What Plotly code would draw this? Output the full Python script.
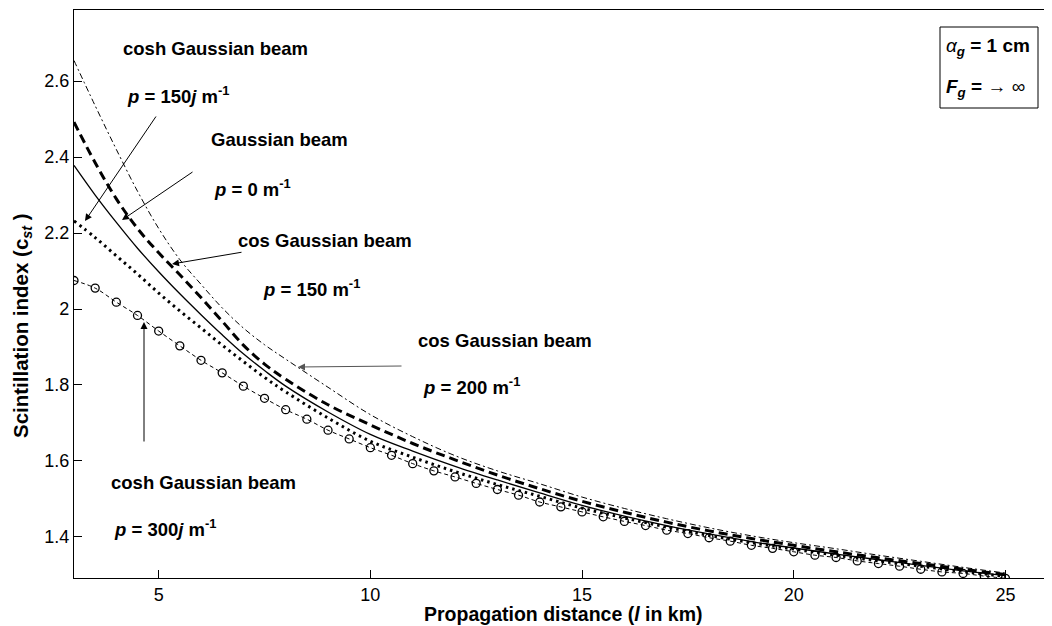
import plotly.graph_objects as go

# ---------------- data ----------------
x_line = [3, 3.5, 4, 4.5, 5, 5.5, 6, 6.5, 7, 7.5, 8, 9, 10, 11, 12, 13, 14, 15, 16, 17, 18, 19, 20, 21, 22, 23, 24, 25]

# cos Gaussian beam p = 200 m^-1 (thin dash-dot)
y_cos200 = [2.654, 2.535, 2.420, 2.310, 2.212, 2.130, 2.065, 2.003, 1.950, 1.906, 1.868, 1.794, 1.722, 1.664, 1.614, 1.574, 1.540, 1.505, 1.475, 1.448, 1.424, 1.403, 1.385, 1.369, 1.352, 1.336, 1.320, 1.305]
# cos Gaussian beam p = 150 m^-1 (thick dashed)
y_cos150 = [2.492, 2.385, 2.290, 2.212, 2.148, 2.090, 2.030, 1.968, 1.905, 1.855, 1.815, 1.748, 1.695, 1.646, 1.603, 1.563, 1.527, 1.494, 1.465, 1.439, 1.416, 1.396, 1.378, 1.361, 1.345, 1.330, 1.315, 1.301]
# Gaussian beam p = 0 (solid)
y_gauss = [2.378, 2.300, 2.228, 2.160, 2.098, 2.040, 1.985, 1.932, 1.882, 1.838, 1.797, 1.729, 1.670, 1.626, 1.586, 1.550, 1.516, 1.483, 1.455, 1.430, 1.408, 1.388, 1.371, 1.355, 1.340, 1.325, 1.311, 1.298]
# cosh Gaussian beam p = 150j m^-1 (thick dotted)
y_cosh150j = [2.232, 2.188, 2.140, 2.092, 2.042, 1.995, 1.950, 1.905, 1.862, 1.820, 1.782, 1.713, 1.652, 1.610, 1.572, 1.538, 1.507, 1.476, 1.450, 1.426, 1.404, 1.385, 1.368, 1.352, 1.337, 1.323, 1.309, 1.296]

# cosh Gaussian beam p = 300j m^-1 (dashed with circles)
x_circ = [3, 3.5, 4, 4.5, 5, 5.5, 6, 6.5, 7, 7.5, 8, 8.5, 9, 9.5, 10, 10.5, 11, 11.5, 12, 12.5, 13, 13.5, 14, 14.5, 15, 15.5, 16, 16.5, 17, 17.5, 18, 18.5, 19, 19.5, 20, 20.5, 21, 21.5, 22, 22.5, 23, 23.5, 24, 24.5, 25]
y_cosh300j = [2.075, 2.055, 2.018, 1.983, 1.942, 1.903, 1.865, 1.832, 1.797, 1.765, 1.735, 1.710, 1.681, 1.658, 1.635, 1.615, 1.593, 1.574, 1.558, 1.541, 1.525, 1.510, 1.492, 1.479, 1.466, 1.453, 1.441, 1.430, 1.418, 1.409, 1.398, 1.389, 1.378, 1.370, 1.361, 1.352, 1.346, 1.337, 1.330, 1.323, 1.315, 1.308, 1.304, 1.297, 1.291]

x_ticks = [5, 10, 15, 20, 25]
y_ticks = [1.4, 1.6, 1.8, 2.0, 2.2, 2.4, 2.6]
y_tick_text = ["1.4", "1.6", "1.8", "2", "2.2", "2.4", "2.6"]

x_range = [3, 26.1]
y_range = [1.292, 2.787]

# ---------------- figure ----------------
# the page body adds an 8 px offset, so margins are reduced by 8 px
OFF = 8
W, H = 1052, 626
ML, MR, MT, MB = 74 - OFF, OFF, 10 - OFF, 48 + OFF
PW, PH = W - ML - MR, H - MT - MB
FONT = "Liberation Sans, Arial, sans-serif"


def px(xp):
    """screen pixel x -> paper x"""
    return (xp - OFF - ML) / PW


def py(yp):
    """screen pixel y -> paper y"""
    return (H - MB - (yp - OFF)) / PH


fig = go.Figure()
fig.add_trace(go.Scatter(x=x_line, y=y_cos200, mode="lines", line=dict(color="black", width=1, dash="6px,3px,2px,3px", shape="spline"), showlegend=False))
fig.add_trace(go.Scatter(x=x_line, y=y_cos150, mode="lines", line=dict(color="black", width=3, dash="9px,5px", shape="spline"), showlegend=False))
fig.add_trace(go.Scatter(x=x_line, y=y_gauss, mode="lines", line=dict(color="black", width=1.3, shape="spline"), showlegend=False))
fig.add_trace(go.Scatter(x=x_line, y=y_cosh150j, mode="lines", line=dict(color="black", width=3, dash="2.5px,4px", shape="spline"), showlegend=False))
fig.add_trace(go.Scatter(x=x_circ, y=y_cosh300j, mode="lines+markers", line=dict(color="black", width=1, dash="4px,3px", shape="spline"),
                         marker=dict(symbol="circle-open", size=8, color="black", line=dict(width=1.3)), showlegend=False))
# empty trace so that the right-hand tick axis is drawn
fig.add_trace(go.Scatter(x=[], y=[], yaxis="y2", mode="lines", showlegend=False, hoverinfo="skip"))

# small right-hand ticks seen on the reference's right border
right_tick_px = [79 + 57.7 * k for k in range(9)]
right_tick_vals = [py(v) for v in right_tick_px]

fig.update_layout(
    width=W, height=H,
    margin=dict(l=ML, r=MR, t=MT, b=MB, pad=0),
    paper_bgcolor="white", plot_bgcolor="white",
    font=dict(family=FONT, color="black", size=18),
    xaxis=dict(range=x_range, tickvals=x_ticks, ticks="inside", ticklen=8, tickcolor="black",
               showline=True, linecolor="black", linewidth=1.2, mirror=True, showgrid=False, zeroline=False,
               tickfont=dict(size=18)),
    yaxis=dict(range=y_range, tickvals=y_ticks, ticktext=y_tick_text, ticks="inside", ticklen=8, tickcolor="black",
               showline=True, linecolor="black", linewidth=1.2, mirror=False, showgrid=False, zeroline=False,
               tickfont=dict(size=18)),
    yaxis2=dict(overlaying="y", side="right", range=[0, 1], tickvals=right_tick_vals, ticks="inside", ticklen=5,
                tickcolor="black", showticklabels=False, showline=False, showgrid=False, zeroline=False),
)

annos = []
# axis titles
annos.append(dict(text="<b>Propagation distance (<i>l</i> in km)</b>", x=px(563), y=py(614), xref="paper", yref="paper",
                  showarrow=False, xanchor="center", yanchor="middle", font=dict(size=19.5)))
annos.append(dict(text="<b>Scintillation index (c<sub><i>st</i></sub> )</b>", x=px(22), y=py(326), xref="paper", yref="paper",
                  showarrow=False, xanchor="center", yanchor="middle", textangle=-90, font=dict(size=20.5)))

labels = [
    ("<b>cosh Gaussian beam</b>", 215, 48),
    ("<b><i>p</i> = 150<i>j</i> m<sup>-1</sup></b>", 178, 95),
    ("<b>Gaussian beam</b>", 279, 139),
    ("<b><i>p</i> = 0 m<sup>-1</sup></b>", 252, 188),
    ("<b>cos Gaussian beam</b>", 325, 240),
    ("<b><i>p</i> = 150 m<sup>-1</sup></b>", 311, 288),
    ("<b>cos Gaussian beam</b>", 505, 340),
    ("<b><i>p</i> = 200 m<sup>-1</sup></b>", 471, 386),
    ("<b>cosh Gaussian beam</b>", 203, 482),
    ("<b><i>p</i> = 300<i>j</i> m<sup>-1</sup></b>", 165, 528),
]
for t, xp, yp in labels:
    annos.append(dict(text=t, x=px(xp), y=py(yp), xref="paper", yref="paper", showarrow=False,
                      xanchor="center", yanchor="middle", font=dict(size=18.5)))

# arrows: (tail_x, tail_y, tip_x, tip_y, color) in screen pixels
arrows = [
    (157, 115, 85, 221, "black"),
    (194, 171, 122, 220, "black"),
    (243, 252, 172, 264, "black"),
    (403, 366, 298, 367, "#555555"),
    (144, 443, 144, 322, "black"),
]
for tx, ty, hx, hy, c in arrows:
    annos.append(dict(text="", x=px(hx), y=py(hy), xref="paper", yref="paper", showarrow=True,
                      ax=tx - hx, ay=ty - hy, axref="pixel", ayref="pixel",
                      arrowhead=2, arrowsize=1.4, arrowwidth=1, arrowcolor=c))

# parameter box
fig.add_shape(type="rect", xref="paper", yref="paper", x0=px(940), x1=px(1038), y0=py(108), y1=py(27),
              line=dict(color="black", width=1), fillcolor="white")
annos.append(dict(text="<i>α</i><sub><b><i>g</i></b></sub><b> = 1 cm</b>", x=px(944), y=py(47), xref="paper", yref="paper",
                  showarrow=False, xanchor="left", yanchor="middle", font=dict(size=19)))
annos.append(dict(text="<b><i>F</i></b><sub><b><i>g</i></b></sub><b> = </b><span style='font-size:19px'>→ ∞</span>", x=px(944), y=py(88),
                  xref="paper", yref="paper", showarrow=False, xanchor="left", yanchor="middle", font=dict(size=19)))

fig.update_layout(annotations=annos)
fig.write_html("out.html")
